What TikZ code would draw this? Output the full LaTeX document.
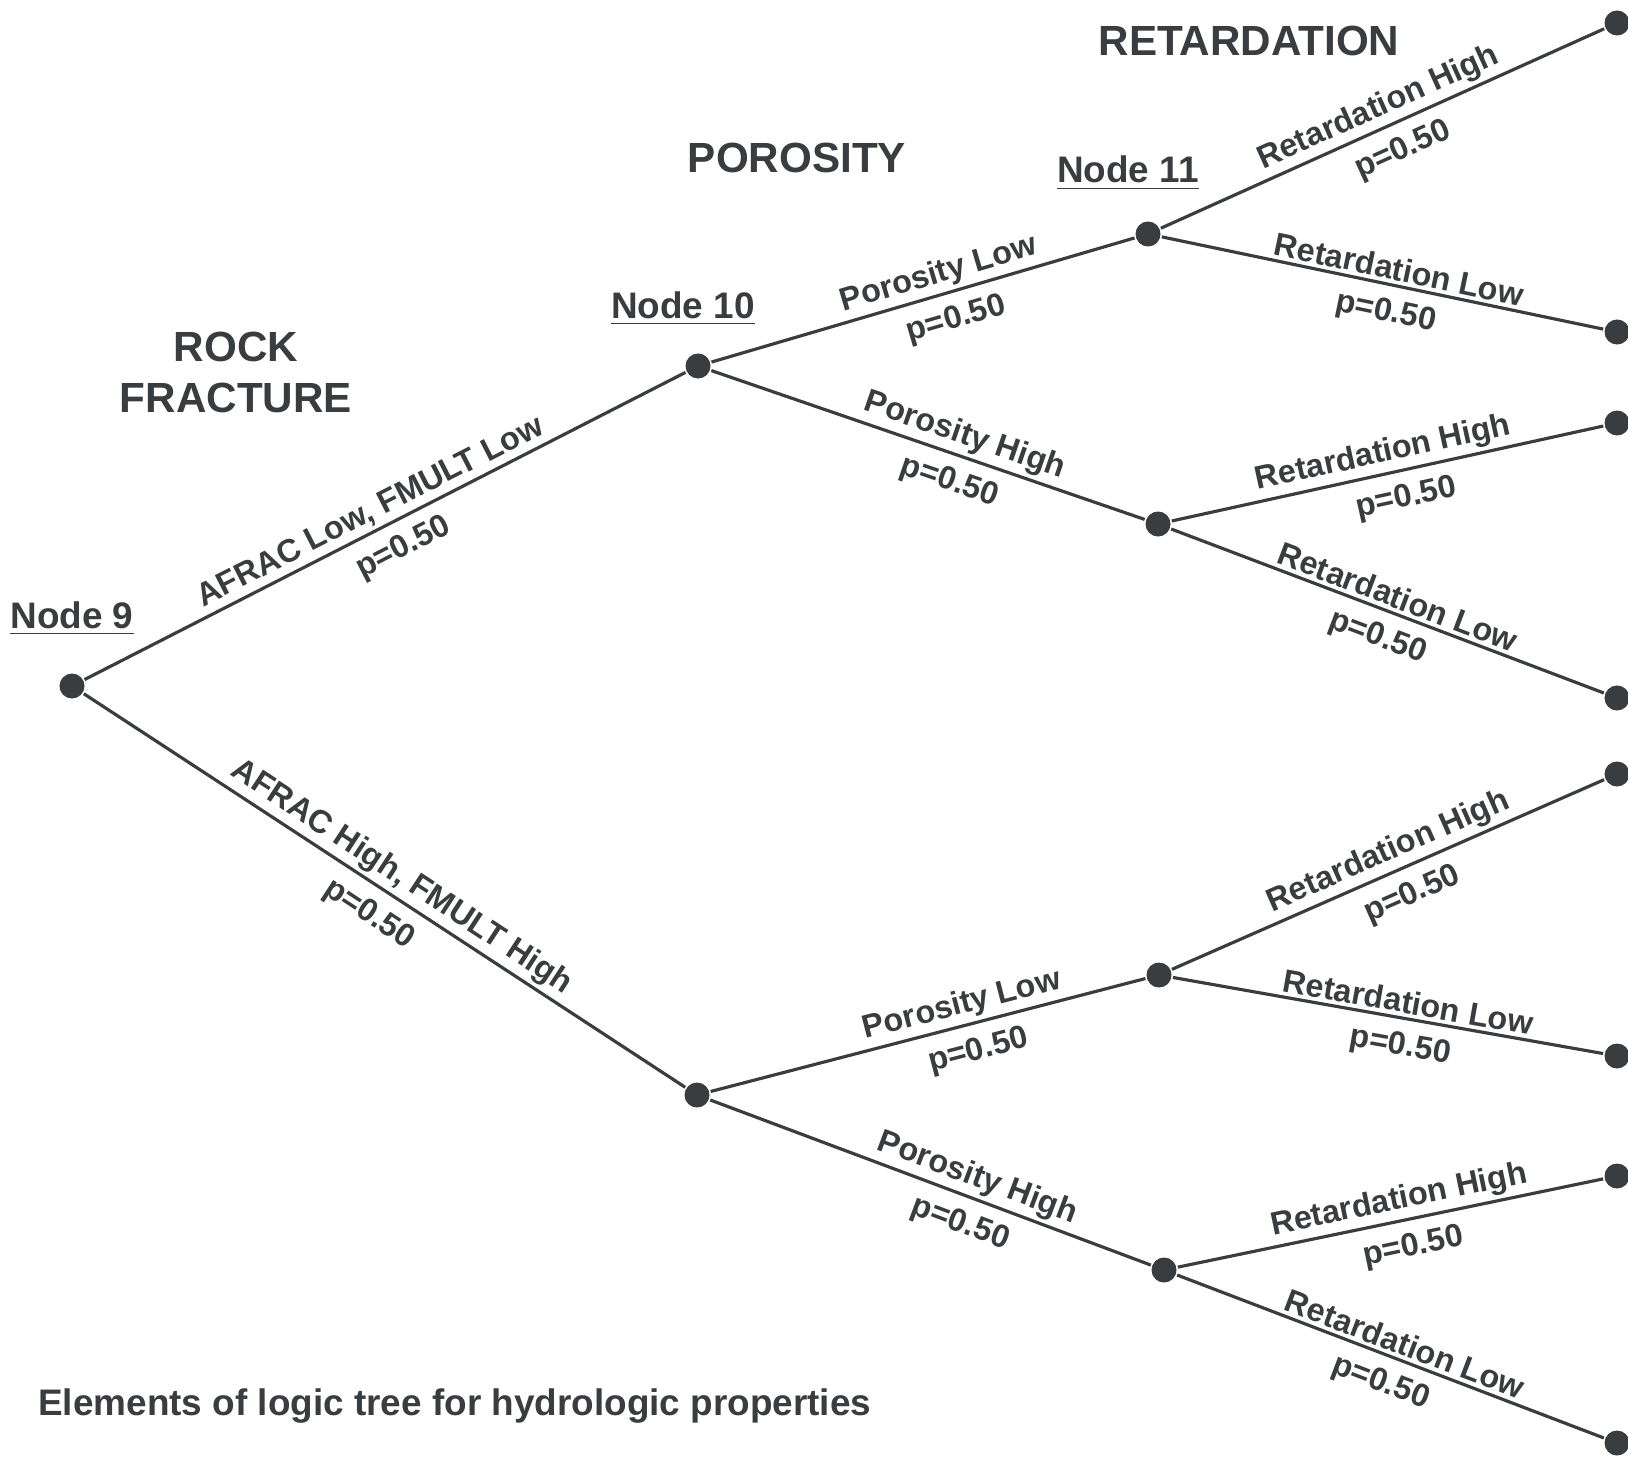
\documentclass[tikz,border=0pt]{standalone}
\usepackage{fontspec}
\setmainfont{Liberation Sans}
\definecolor{ink}{RGB}{58,61,63}
\begin{document}
\begin{tikzpicture}[x=0.01cm, y=-0.01cm, line width=0.9pt, color=ink,
    chance/.style={circle, fill=ink, inner sep=0pt, minimum size=0.25cm},
    branch/.style={font=\bfseries\fontsize{9.2}{11}\selectfont, sloped, inner sep=1pt},
    prob/.style={branch, below=2.5pt},
    heading/.style={font=\bfseries\fontsize{12}{14.5}\selectfont, align=center, anchor=base},
    tag/.style={font=\bfseries\fontsize{10.5}{12}\selectfont, anchor=base}]
\useasboundingbox (0,0) rectangle (1628,1458);
% chance nodes
\node[chance] (n9) at (72,686) {};
\node[chance] (n10) at (698,366) {};
\node[chance] (n11) at (1148,234) {};
\node[chance] (ph1) at (1158,524) {};
\node[chance] (ah) at (697,1095) {};
\node[chance] (pl2) at (1159,975) {};
\node[chance] (ph2) at (1164,1270) {};
\foreach \i/\y in {1/23,2/332,3/423,4/698,5/774,6/1056,7/1176,8/1443}
    \node[chance] (r\i) at (1617,\y) {};
% headings
\node[heading] (ret) at (1249,56) {RETARDATION};
\node[heading] (por) at (797,173) {POROSITY};
\node[heading] (rock) at (236,412) {ROCK\\FRACTURE};
\node[tag] (t9) at (72,628) {\underline{Node 9}};
\node[tag] (t10) at (683,318) {\underline{Node 10}};
\node[tag] (t11) at (1128,183) {\underline{Node 11}};
\node[tag, anchor=base west] (cap) at (25,1415) {Elements of logic tree for hydrologic properties};
% branches
\draw (n9) -- node[branch, above, pos=0.49] {AFRAC Low, FMULT Low} node[prob, pos=0.51] {p=0.50} (n10);
\draw (n9) -- node[branch, above, pos=0.51] {AFRAC High, FMULT High} node[prob, pos=0.5] {p=0.50} (ah);
\draw (n10) -- node[branch, above, pos=0.55] {Porosity Low} node[prob, pos=0.56] {p=0.50} (n11);
\draw (n10) -- node[branch, above, pos=0.57] {Porosity High} node[prob, pos=0.57] {p=0.50} (ph1);
\draw (ah) -- node[branch, above, pos=0.59] {Porosity Low} node[prob, pos=0.6] {p=0.50} (pl2);
\draw (ah) -- node[branch, above, pos=0.59] {Porosity High} node[prob, pos=0.59] {p=0.50} (ph2);
\draw (n11) -- node[branch, above, pos=0.51] {Retardation High} node[prob, pos=0.52] {p=0.50} (r1);
\draw (n11) -- node[branch, above, pos=0.53] {Retardation Low} node[prob, pos=0.52] {p=0.50} (r2);
\draw (ph1) -- node[branch, above, pos=0.5] {Retardation High} node[prob, pos=0.53] {p=0.50} (r3);
\draw (ph1) -- node[branch, above, pos=0.51] {Retardation Low} node[prob, pos=0.5] {p=0.50} (r4);
\draw (pl2) -- node[branch, above, pos=0.52] {Retardation High} node[prob, pos=0.53] {p=0.50} (r5);
\draw (pl2) -- node[branch, above, pos=0.54] {Retardation Low} node[prob, pos=0.54] {p=0.50} (r6);
\draw (ph2) -- node[branch, above, pos=0.53] {Retardation High} node[prob, pos=0.54] {p=0.50} (r7);
\draw (ph2) -- node[branch, above, pos=0.52] {Retardation Low} node[prob, pos=0.5] {p=0.50} (r8);
\end{tikzpicture}
\end{document}
